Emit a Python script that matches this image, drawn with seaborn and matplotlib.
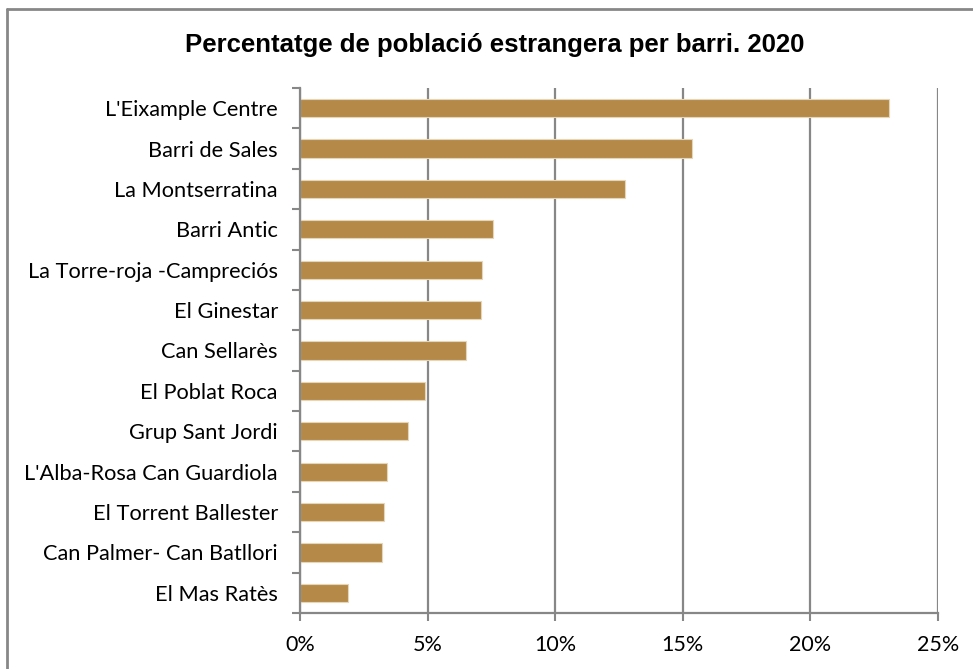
import pandas as pd
import seaborn as sns
import matplotlib.pyplot as plt
from matplotlib.lines import Line2D
from matplotlib.ticker import PercentFormatter, FixedLocator

barris = [
    "L'Eixample Centre",
    "Barri de Sales",
    "La Montserratina",
    "Barri Antic",
    "La Torre-roja -Campreciós",
    "El Ginestar",
    "Can Sellarès",
    "El Poblat Roca",
    "Grup Sant Jordi",
    "L'Alba-Rosa Can Guardiola",
    "El Torrent Ballester",
    "Can Palmer- Can Batllori",
    "El Mas Ratès",
]
percentatge = [23.1, 15.35, 12.75, 7.55, 7.15, 7.08, 6.5, 4.9, 4.25, 3.4, 3.3, 3.2, 1.88]
x_ticks = [0, 5, 10, 15, 20, 25]

GOLD = "#b58a49"
GRAY = "#878787"


def plot_chart():
    df = pd.DataFrame({"barri": barris, "pct": percentatge})

    sns.set_style("white")
    plt.rcParams["font.family"] = ["Lato", "DejaVu Sans"]
    plt.rcParams["text.color"] = "black"
    plt.rcParams["xtick.color"] = "black"
    plt.rcParams["ytick.color"] = "black"

    fig = plt.figure(figsize=(9.73, 6.69), dpi=100)
    ax = fig.add_axes([0.3083, 0.0837, 0.6557, 0.7848])

    sns.barplot(
        data=df,
        x="pct",
        y="barri",
        color=GOLD,
        saturation=1,
        width=0.45,
        edgecolor="#e6d6b8",
        linewidth=0.8,
        ax=ax,
    )

    ax.set_xlim(0, 25)
    ax.set_ylim(len(barris) - 0.5, -0.5)
    ax.xaxis.set_major_locator(FixedLocator(x_ticks))
    ax.xaxis.set_major_formatter(PercentFormatter(decimals=0))
    ax.grid(axis="x", color=GRAY, linewidth=1.6)
    ax.set_axisbelow(True)

    # category boundary ticks, Excel style
    ax.yaxis.set_minor_locator(FixedLocator([i - 0.5 for i in range(len(barris) + 1)]))
    ax.tick_params(axis="y", which="major", length=0, pad=16, labelsize=15.7)
    ax.tick_params(axis="y", which="minor", length=6, width=1.5, color=GRAY, left=True)
    ax.tick_params(axis="x", which="major", length=6, width=1.5, color=GRAY,
                   bottom=True, pad=10, labelsize=15.5)

    for side in ["top", "right"]:
        ax.spines[side].set_visible(False)
    for side in ["left", "bottom"]:
        ax.spines[side].set_color(GRAY)
        ax.spines[side].set_linewidth(1.6)

    ax.set_xlabel("")
    ax.set_ylabel("")

    fig.text(0.508, 0.933, "Percentatge de població estrangera per barri. 2020",
             ha="center", va="center", fontsize=18.5, fontweight="bold",
             color="black", family=["Liberation Sans", "DejaVu Sans"])

    # outer chart border (cropped on the right and bottom)
    fig.add_artist(Line2D([7 / 973, 1], [1 - 9 / 669] * 2, color=GRAY, linewidth=2,
                          transform=fig.transFigure))
    fig.add_artist(Line2D([7 / 973] * 2, [0, 1 - 9 / 669], color=GRAY, linewidth=2,
                          transform=fig.transFigure))

    fig.savefig("out.png", dpi=100)


if __name__ == "__main__":
    plot_chart()
